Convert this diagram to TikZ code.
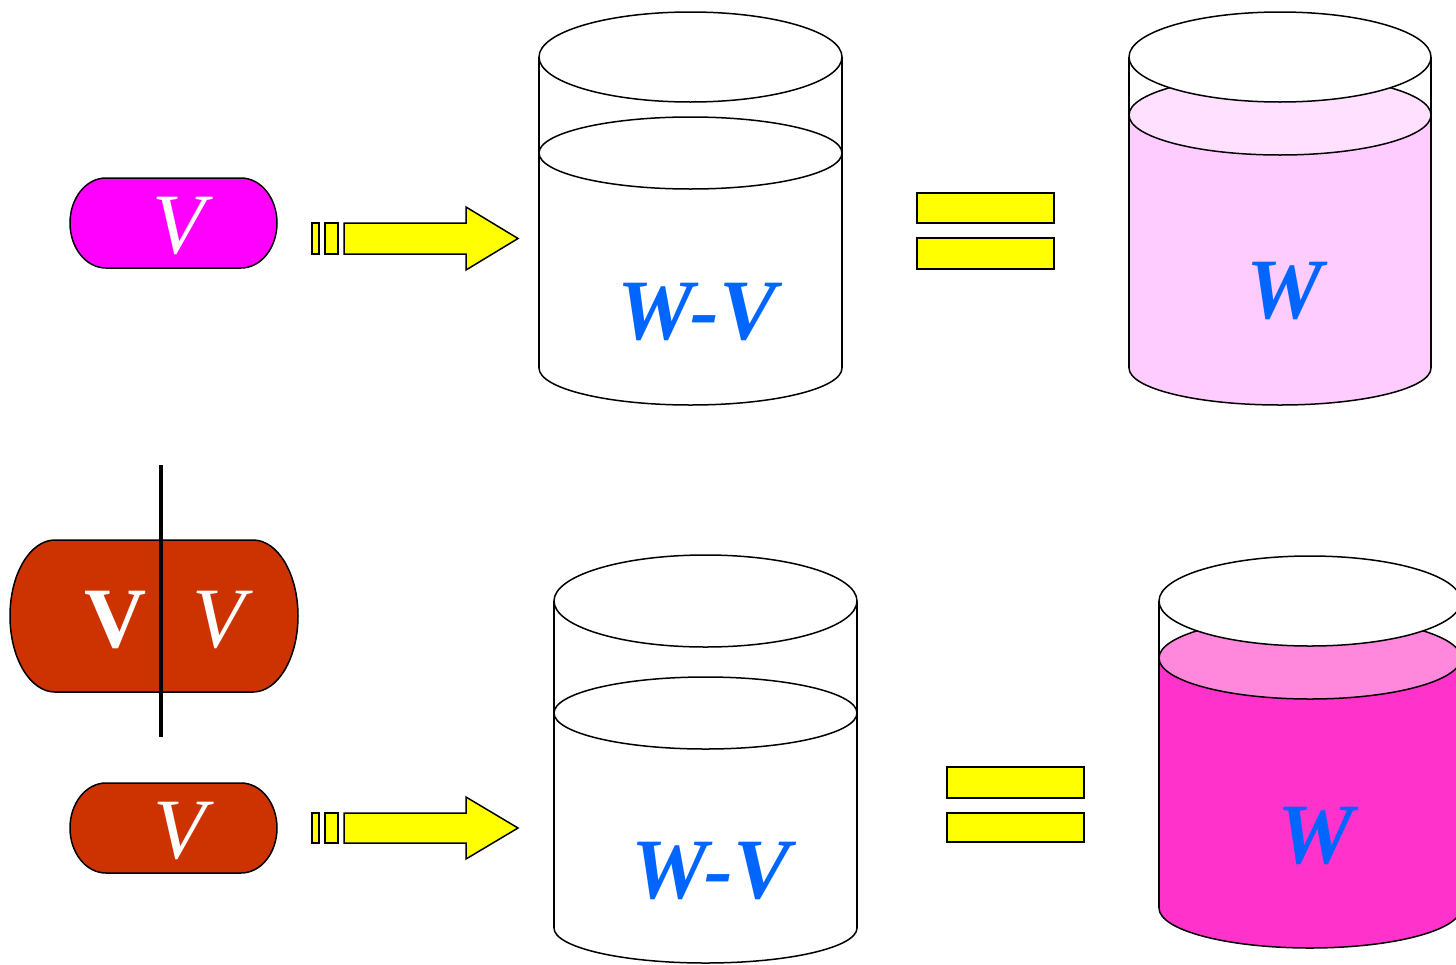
\documentclass[tikz,border=0pt]{standalone}
\usepackage{fontspec}
\setmainfont{Liberation Serif}
\definecolor{capsA}{HTML}{FF00FF}
\definecolor{capsB}{HTML}{CC3300}
\definecolor{txtblue}{HTML}{0066FF}
\definecolor{lightbody}{HTML}{FFCCFF}
\definecolor{lightsurf}{HTML}{FFE0FF}
\definecolor{darkbody}{HTML}{FF33CC}
\definecolor{darksurf}{HTML}{FF88DD}
\definecolor{arrowyellow}{HTML}{FFFF00}
\tikzset{
  gline/.style={draw=black, line width=1.5pt},
  ybox/.style={draw=black, line width=1.5pt, fill=arrowyellow},
  capsule/.style={draw=black, line width=1.5pt},
  biglabel/.style={inner sep=0pt, anchor=center, font=\fontsize{86}{90}\selectfont},
}
\newcommand\myglass[8]{%
  \draw[gline, fill=\bodycol] (#1,#7) ellipse [x radius=#2pt, y radius=#8pt];
  \fill[\bodycol] (#1-#2,#7) rectangle (#1+#2,#5);
  \draw[gline] (#1-#2,#3) -- (#1-#2,#7) (#1+#2,#3) -- (#1+#2,#7);
  \draw[gline, fill=\surfcol] (#1,#5) ellipse [x radius=#2pt, y radius=#6pt];
  \draw[gline, fill=white] (#1,#3) ellipse [x radius=#2pt, y radius=#4pt];
}
\begin{document}
\begin{tikzpicture}[x=1pt,y=-1pt]
\useasboundingbox (0,0) rectangle (1456,964);
\clip (0,0) rectangle (1456,964);
\fill[white] (0,0) rectangle (1456,964);

% ---------- top row ----------
\draw[capsule, fill=capsA] (106,178) -- (241,178) .. controls (260.9,178) and (277,198.1) .. (277,223)
  .. controls (277,247.9) and (260.9,268) .. (241,268) -- (106,268)
  .. controls (86.1,268) and (70,247.9) .. (70,223) .. controls (70,198.1) and (86.1,178) .. (106,178) -- cycle;
\node[biglabel, text=white] (v1) at (179,226) {\itshape V};

\draw[ybox] (312,223) rectangle (319,254);
\draw[ybox] (325,223) rectangle (338,254);
\draw[ybox, line join=miter] (344,223) -- (466,223) -- (466,207) -- (518,238.5) -- (466,270) -- (466,254) -- (344,254) -- cycle;

\def\bodycol{white}\def\surfcol{white}
\myglass{690.5}{151.5}{57}{45}{153}{36}{368}{37}
\node[biglabel, text=txtblue] (wv1) at (697,312) {\bfseries\itshape W-V};

\draw[ybox] (917,193) rectangle (1054,223);
\draw[ybox] (917,238) rectangle (1054,269);

\def\bodycol{lightbody}\def\surfcol{lightsurf}
\myglass{1280}{151}{57}{45}{115}{40}{368}{37}
\node[biglabel, text=txtblue] (w1) at (1285,291) {\bfseries\itshape W};

% ---------- bottom row ----------
\draw[capsule, fill=capsB] (55,540) -- (253,540) .. controls (277.9,540) and (298,574) .. (298,616)
  .. controls (298,658) and (277.9,692) .. (253,692) -- (55,692)
  .. controls (30.1,692) and (10,658) .. (10,616) .. controls (10,574) and (30.1,540) .. (55,540) -- cycle;
\node[biglabel, text=white] (vb) at (116,620) {\bfseries V};
\node[biglabel, text=white] (vi) at (219,620) {\itshape V};
\coordinate (cutT) at (161,465);
\coordinate (cutB) at (161,737);
\draw[line width=4pt] (cutT) -- (cutB);

\draw[capsule, fill=capsB] (106,783) -- (241,783) .. controls (260.9,783) and (277,803.1) .. (277,828)
  .. controls (277,852.9) and (260.9,873) .. (241,873) -- (106,873)
  .. controls (86.1,873) and (70,852.9) .. (70,828) .. controls (70,803.1) and (86.1,783) .. (106,783) -- cycle;
\node[biglabel, text=white] (v2) at (180,831) {\itshape V};

\draw[ybox] (312,813) rectangle (319,843);
\draw[ybox] (325,813) rectangle (338,843);
\draw[ybox, line join=miter] (344,813) -- (466,813) -- (466,797) -- (518,828) -- (466,859) -- (466,843) -- (344,843) -- cycle;

\def\bodycol{white}\def\surfcol{white}
\myglass{705.5}{151.5}{601}{46}{713}{36}{928}{35}
\node[biglabel, text=txtblue] (wv2) at (711,871) {\bfseries\itshape W-V};

\draw[ybox] (947,767) rectangle (1084,798);
\draw[ybox] (947,813) rectangle (1084,842);

\def\bodycol{darkbody}\def\surfcol{darksurf}
\myglass{1310}{151}{601}{45}{658}{41}{908}{40}
\node[biglabel, text=txtblue] (w2) at (1316,836) {\bfseries\itshape W};
\end{tikzpicture}
\end{document}
